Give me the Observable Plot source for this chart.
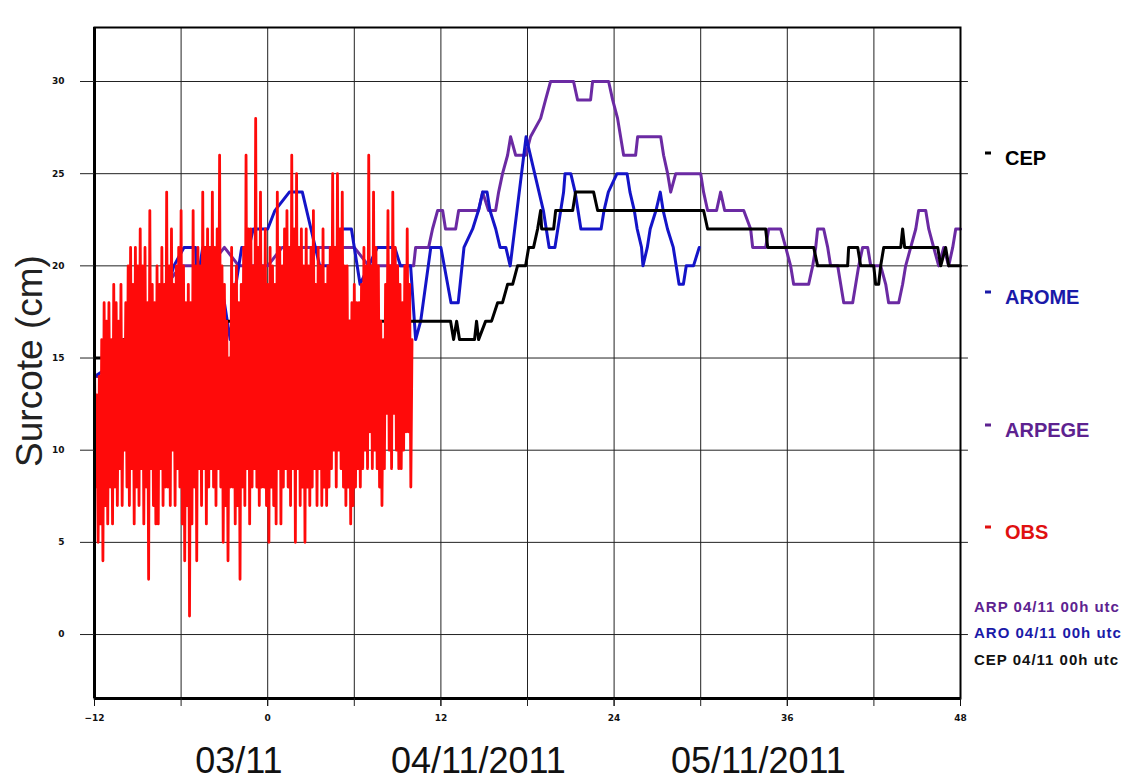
<!DOCTYPE html>
<html><head><meta charset="utf-8">
<script src="https://cdn.jsdelivr.net/npm/d3@7"></script>
<script src="https://cdn.jsdelivr.net/npm/@observablehq/plot@0.6"></script>
<style>
body{margin:0;background:#fff;}
#wrap{position:relative;width:1129px;height:780px;overflow:hidden;font-family:"Liberation Sans",Arial,sans-serif;}
.lab{position:absolute;white-space:nowrap;transform:translateY(-50%);}
.dash{display:inline-block;width:6px;height:3px;vertical-align:top;margin-top:5px;margin-right:14px;}
</style></head><body><div id="wrap"></div>
<script>
// ---- data ----
const obsStartHour = -12;
const obsStepHours = 1/12;
const obsValues = [
15,8,13,5,14,6,16,4,18,7,17,6,18,8,16,6,19,8,18,7,
17,9,19,7,16,10,18,8,20,7,21,9,19,6,21,8,20,7,22,9,
20,6,21,8,18,3,23,9,19,7,18,6,20,6,19,9,21,7,19,8,
24,8,20,7,22,10,19,7,20,9,21,8,23,6,20,4,18,7,19,1,
18,6,23,8,20,4,21,9,20,7,24,9,21,6,22,8,21,9,24,8,
21,7,22,9,26,8,20,5,19,7,17,4,15,8,21,8,19,6,20,7,
18,3,19,8,21,7,26,9,22,6,22,8,20,9,28,8,21,7,24,8,
20,8,22,7,19,5,21,8,20,7,19,6,24,9,21,6,20,8,22,9,
23,8,21,7,26,9,22,5,25,9,21,7,22,8,20,5,22,8,20,7,
21,8,23,9,19,7,21,9,20,7,22,8,19,7,20,8,21,9,25,10,
21,8,25,10,22,9,24,8,20,7,20,8,17,6,18,7,19,8,18,9,
18,8,19,9,21,10,20,9,26,11,20,9,24,10,21,9,20,8,17,7,
16,9,19,12,23,10,20,9,24,12,21,10,20,9,19,9,18,10,20,11,
22,11,19,8,16];

const arpHours = [-12,-11,-10,-9,-8,-7,-6,-4,-3,-2,-1,0,1,3,4,5,6,7,8,9,
10.11,10.25,11.15,11.42,11.77,12.12,12.32,13.02,13.23,14.61,
14.89,15.30,15.79,16.0,16.27,16.62,16.83,17.18,17.87,18.21,
18.91,19.25,19.60,21.19,21.47,22.37,22.51,23.62,23.90,24.24,
24.45,24.66,25.49,25.63,27.23,27.43,27.71,27.92,28.27,30.0,
30.2,30.48,31.1,31.38,31.66,32.98,33.46,33.60,34.50,34.71,
35.54,35.89,36.23,36.44,37.48,37.76,37.97,38.10,38.52,38.80,
39.0,39.49,39.70,39.91,40.53,40.74,40.95,41.22,41.57,41.78,
42.47,42.82,43.02,43.72,43.99,44.20,44.55,44.90,45.10,45.59,
45.80,46.14,46.49,46.84,47.18,47.46,47.67,48.0];
const arpValues = [14,14,15,16,17,19,20,20,21,20,20,20,21,21,21,21,21,20,20,20,
20,21,21,22,23,23,22,22,23,23,
24,23,23,24,25,26,27,26,26,27,
28,29,30,30,29,29,30,30,29,28,
27,26,26,27,27,26,25,24,25,25,
24,23,23,24,23,23,22,21,21,22,
22,21,20,19,19,20,21,22,22,21,
20,20,19,18,18,19,20,21,21,20,
20,19,18,18,19,20,21,22,23,23,
22,21,20,21,20,21,22,22];

const aroHours = [-12,-10,-8,-6.5,-5.8,-5,-4.9,-4.5,-3.9,-3.5,
-3,-2.6,-2.2,-1.8,-1.3,-1.0,0,0.5,1.5,2.4,
3,3.6,4.6,5.1,5.8,6.4,7,7.6,8.8,9.2,
9.9,10.25,10.6,11.3,12.0,12.7,13.2,13.6,14.2,14.6,
14.9,15.2,15.4,15.8,16.1,16.5,16.8,17.9,19.1,19.5,
19.9,20.1,20.3,20.5,20.6,21.0,21.3,21.5,21.7,23.1,
23.3,23.6,24.2,24.9,25.1,25.4,25.6,25.9,26.0,26.3,
26.5,26.9,27.2,27.4,27.7,28.1,28.3,28.5,28.8,29.0,
29.5,29.9];
const aroValues = [14,15,16,20,21,21,19,21,21,20,
18,16,19,21,21,22,22,23,24,24,
22,20,20,22,22,19,20,21,21,20,
20,16,17,21,21,18,18,21,22,23,
24,24,23,22,21,21,20,27,23,21,
21,22,23,24,25,25,24,23,22,22,
23,24,25,25,24,23,22,21,20,21,
22,23,24,23,22,21,20,19,19,20,
20,21];

const cepHours = [-12,-11,-10,-8,-6,-2,2,6,10.11,12.67,
12.88,13.09,13.29,14.33,14.47,14.61,15.10,15.51,15.93,16.27,
16.62,16.97,17.31,17.87,18.08,18.42,18.70,18.91,18.98,19.81,
19.95,21.13,21.33,22.58,22.86,30.20,30.48,34.50,34.64,37.83,
38.10,40.18,40.25,40.88,41.08,41.99,42.12,42.33,42.47,42.68,
43.86,43.99,44.13,46.42,46.63,46.97,47.18,48.0];
const cepValues = [15,15,16,16,17,17,17,17,17,17,
16,17,16,16,17,16,17,17,18,18,
19,19,20,20,21,21,22,23,22,22,
23,23,24,24,23,23,22,22,21,21,
20,20,21,21,20,20,19,19,20,21,
21,22,21,21,20,21,20,20];

const yTicks = [0,5,10,15,20,25,30];
const xLabelTicks = [-12,0,12,24,36,48];
const xGridTicks = [-12,-6,0,6,12,18,24,30,36,42,48];
const dateLabels = ["03/11","04/11/2011","05/11/2011"];
const legendNames = ["CEP","AROME","ARPEGE","OBS"];
const runLabels = ["ARP 04/11 00h utc","ARO 04/11 00h utc","CEP 04/11 00h utc"];

// ---- styles ----
const cRed = "#ff0a0a", cBlue = "#1414c8", cPurple = "#6b2aa3", cBlack = "#000";

const toRows = (hs, vs) => hs.map((h, i) => ({h, v: vs[i]}));
const obs = obsValues.map((v, i) => ({h: obsStartHour + i * obsStepHours, v}));
const arp = toRows(arpHours, arpValues);
const aro = toRows(aroHours, aroValues);
const cep = toRows(cepHours, cepValues);

const yDom = [-3.47, 32.93];
const chart = Plot.plot({
  width: 1129, height: 780,
  marginLeft: 94, marginRight: 169, marginTop: 27, marginBottom: 82,
  x: {domain: [-12, 48]},
  y: {domain: yDom},
  style: {fontFamily: "'DejaVu Sans', sans-serif", fontSize: "9px", color: "#111", background: "white"},
  marks: [
    Plot.gridX(xGridTicks, {stroke: "#222", strokeOpacity: 1, strokeWidth: 1}),
    Plot.gridY(yTicks, {stroke: "#222", strokeOpacity: 1, strokeWidth: 1}),
    Plot.ruleY(yTicks, {x1: 48, x2: 48.55, stroke: "#222"}),
    Plot.line(arp, {x: "h", y: "v", stroke: cPurple, strokeWidth: 3}),
    Plot.line(aro, {x: "h", y: "v", stroke: cBlue, strokeWidth: 3}),
    Plot.line(cep, {x: "h", y: "v", stroke: cBlack, strokeWidth: 3}),
    Plot.line(obs, {x: "h", y: "v", stroke: cRed, strokeWidth: 2.8}),
    Plot.frame({stroke: "#000", strokeWidth: 2}),
    Plot.ruleX([-12], {stroke: "#000", strokeWidth: 3}),
    Plot.ruleY([yDom[0]], {stroke: "#000", strokeWidth: 3}),
    Plot.axisY(yTicks, {tickSize: 14, tickPadding: 16, fontWeight: "bold", label: null, stroke: "#222"}),
    Plot.axisX(xGridTicks, {tickSize: 8, tickFormat: () => "", label: null, stroke: "#222"}),
    Plot.axisX(xLabelTicks, {tickSize: 8, tickPadding: 8, fontWeight: "bold", label: null}),
    Plot.text(dateLabels, {x: [-2.0, 14.6, 34.0], y: () => yDom[0], dy: 63, fontSize: 36,
      fontFamily: "'Liberation Sans Narrow', 'Arial Narrow', sans-serif", fill: "#111"})
  ]
});
const wrap = document.getElementById("wrap");
wrap.appendChild(chart);

function addLabel(html, left, top, css) {
  const d = document.createElement("div");
  d.className = "lab";
  d.innerHTML = html;
  d.style.left = left + "px";
  d.style.top = top + "px";
  Object.assign(d.style, css || {});
  wrap.appendChild(d);
  return d;
}
// y axis title
addLabel("Surcote (cm)", 30, 361, {fontSize: "37px", color: "#222",
  transform: "translate(-50%,-50%) rotate(-90deg)"});

// legend
const legColors = ["#000", "#1a1aa8", "#5d2290", "#e01010"];
const legY = [158, 297, 430, 532];
legendNames.forEach((n, i) => {
  addLabel(`<span class="dash" style="background:${legColors[i]}"></span>${n}`, 985, legY[i],
    {fontSize: "20px", fontWeight: "bold", color: legColors[i]});
});
const runColors = ["#5d2290", "#1a1aa8", "#111"];
const runY = [606, 632, 659];
runLabels.forEach((t, i) => {
  addLabel(t, 974, runY[i], {fontSize: "15px", fontWeight: "bold", color: runColors[i],
    letterSpacing: "1px", fontFamily: "'Liberation Sans', Arial, sans-serif"});
});
</script></body></html>
